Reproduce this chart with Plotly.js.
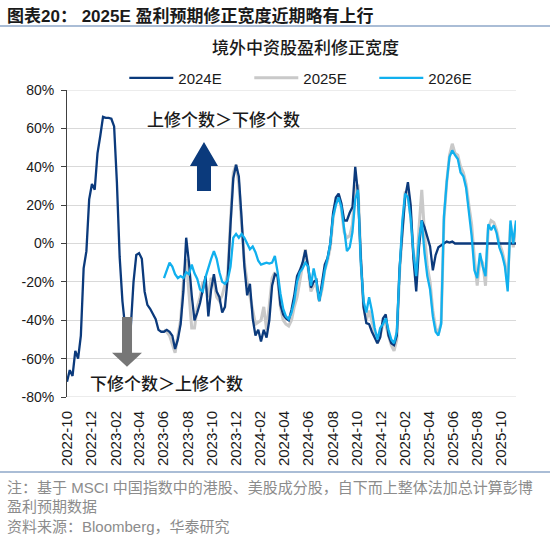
<!DOCTYPE html>
<html><head><meta charset="utf-8">
<script src="https://cdn.plot.ly/plotly-3.0.1.min.js"></script>
<style>html,body{margin:0;padding:0;background:#fff;}#chart{width:550px;height:542px;}</style>
</head><body><div id="chart"></div>
<script>
// weekly observation dates
const dates = [
'2022-09-30','2022-10-07','2022-10-14','2022-10-21','2022-10-28','2022-11-04','2022-11-11','2022-11-18','2022-11-25','2022-12-02','2022-12-09','2022-12-16','2022-12-23','2022-12-30',
'2023-01-06','2023-01-13','2023-01-20','2023-01-27','2023-02-03','2023-02-10','2023-02-17','2023-02-24','2023-03-03','2023-03-10','2023-03-17','2023-03-24','2023-03-31','2023-04-07','2023-04-14','2023-04-21','2023-04-28','2023-05-05','2023-05-12','2023-05-19','2023-05-26','2023-06-02','2023-06-09','2023-06-16','2023-06-23','2023-06-30','2023-07-07','2023-07-14','2023-07-21','2023-07-28','2023-08-04','2023-08-11','2023-08-18','2023-08-25','2023-09-01','2023-09-08','2023-09-15','2023-09-22','2023-09-29','2023-10-06','2023-10-13','2023-10-20','2023-10-27','2023-11-03','2023-11-10','2023-11-17','2023-11-24','2023-12-01','2023-12-08','2023-12-15','2023-12-22','2023-12-29',
'2024-01-05','2024-01-12','2024-01-19','2024-01-26','2024-02-02','2024-02-09','2024-02-16','2024-02-23','2024-03-01','2024-03-08','2024-03-15','2024-03-22','2024-03-29','2024-04-05','2024-04-12','2024-04-19','2024-04-26','2024-05-03','2024-05-10','2024-05-17','2024-05-24','2024-05-31','2024-06-07','2024-06-14','2024-06-21','2024-06-28','2024-07-05','2024-07-12','2024-07-19','2024-07-26','2024-08-02','2024-08-09','2024-08-16','2024-08-23','2024-08-30','2024-09-06','2024-09-13','2024-09-20','2024-09-27','2024-10-04','2024-10-11','2024-10-18','2024-10-25','2024-11-01','2024-11-08','2024-11-15','2024-11-22','2024-11-29','2024-12-06','2024-12-13','2024-12-20','2024-12-27',
'2025-01-03','2025-01-10','2025-01-17','2025-01-24','2025-01-31','2025-02-07','2025-02-14','2025-02-21','2025-02-28','2025-03-07','2025-03-14','2025-03-21','2025-03-28','2025-04-04','2025-04-11','2025-04-18','2025-04-25','2025-05-02','2025-05-09','2025-05-16','2025-05-23','2025-05-30','2025-06-06','2025-06-13','2025-06-20','2025-06-27','2025-07-04','2025-07-11','2025-07-18','2025-07-25','2025-08-01','2025-08-08','2025-08-15','2025-08-22','2025-08-29','2025-09-05','2025-09-12','2025-09-19','2025-09-26','2025-10-03','2025-10-10','2025-10-17','2025-10-24','2025-10-31','2025-11-07'
];

// 2024E revision breadth (%), full history
const s2024E = [
-72,-66,-69,-56,-60,-48,-13,-4,23,31,28,47,56,66,
65.5,65.5,65,61,32,-7,-30,-44,-52,-44,-20,-6,-5,-8,-25,-32,-34,-36.5,-39.5,-45,-46,
-46,-45,-46,-48,-55,-50,-42,-25,3,-10,
-27,-40,-36,-31,-24,-17,-38,-24,-16,-25,
-28,-36,-33,-18,10,34,41,35,13,-12,
-27,-21,-39,-48,-45,-51,-45,-49,-40,-22,
-16,-17,-32,-37,-39,-40,-34.5,-27,-17,-14,
-10,-3.5,-12,-23,-20,-19,-30,-21,-11,-7.5,
0,16,24,26,21,12,12,16,19,40,
26,-7,-33,-41.5,-42,-46,-49,-52,-49,-39,
-37,-48,-52,-53,-48,-13,6,24,32,20,
-8,-25,-2,12,8.5,4,-1.5,-14,-6,-2,
-1,0,1,0.5,1,0,0,0,0.3,0,
0,0,0,0,0,0,0,0,0,0,
0,0,0,0,0,0,0,0
];

// 2025E revision breadth (%), from 2023-06-02
const start2025E = '2023-06-02';
const s2025E = [
-45,-46,-48,-53,-57,-48,-40,-20,-8,-26,
-44,-44,-33,-28,-20,-22,-28,-18,-20,-28,
-30,-27,-22,-16,12,37,41,31,10,-10,
-20,-27,-34,-42,-41,-40,-33,-45,-32,-18,
-15,-18,-33,-40,-42,-43,-40,-33,-28,-20,
-12,-3,-13,-25,-22,-22,-30,-24,-14,-9,
-2,13,22,25,18,6,3,4,10,30,
30,-8,-33,-40,-35,-40,-46,-52,-48,-42,
-42,-48,-53,-56,-50,-15,8,27,26,14,
-5,-15,8,28,5,-12,-20,-35,-44,-47,
-41,12,32,46,52,47,46,40,37,31,
20,10,-8,-22,-8,-10,-22,8,12,11,
7,0,-4,-10,-20,10,-2,10
];

// 2026E revision breadth (%), from 2023-06-02
const start2026E = '2023-06-02';
const s2026E = [
-18,-14,-10,-12,-16,-18,-17,-18,-15,-16,
-11,-15.5,-18.5,-24,-25,-17.5,-12,-8,-4,-8,
-15,-20,-21,-19,-12,3,5,3,5,3,
0,-3,-1.5,-4.5,-9,-11,-10.5,-10,-10.5,-10,
-6.5,-15,-26,-34,-38,-39.5,-36,-30,-20,-15,
-13,-10,-12,-22,-13,-20,-30,-23,-14,-8,
0,14,20,24,19,8,-4,-2,6,23,
28,-10,-30,-36,-28,-35,-44,-50,-44,-42,
-39,-45,-50,-52,-46,-14,12,26,24,13,
-5,-17,2,12,-5,-17,-24,-38,-46,-48,
-42,14,32,45,48.5,46,44,37,35,29,
16,4,-14,-18,-5,-12,-17,10,7,9.5,
5.5,-2,-6,-12,-25,12,0,12
];

const seriesNames = ['2024E','2025E','2026E'];
const xTickDates = ['2022-10-01','2022-12-01','2023-02-01','2023-04-01','2023-06-01','2023-08-01','2023-10-01','2023-12-01','2024-02-01','2024-04-01','2024-06-01','2024-08-01','2024-10-01','2024-12-01','2025-02-01','2025-04-01','2025-06-01','2025-08-01','2025-10-01'];
const xTickLabels = ['2022-10','2022-12','2023-02','2023-04','2023-06','2023-08','2023-10','2023-12','2024-02','2024-04','2024-06','2024-08','2024-10','2024-12','2025-02','2025-04','2025-06','2025-08','2025-10'];
const yTickVals = [-80,-60,-40,-20,0,20,40,60,80];
const yTickLabels = ['-80%','-60%','-40%','-20%','0%','20%','40%','60%','80%'];

const i25 = dates.indexOf(start2025E);
const i26 = dates.indexOf(start2026E);

const NAVY = '#0b3a7c', GRAY = '#c9c9c9', CYAN = '#11b0ee';
const FONT = 'Liberation Sans, Arial, Noto Sans CJK SC, sans-serif';
const CJK = 'Noto Sans CJK SC, Liberation Sans, sans-serif';

const traces = [
  {x: dates.slice(i25), y: s2025E, name: seriesNames[1], type: 'scatter', mode: 'lines',
   line: {color: GRAY, width: 3}, legendrank: 2},
  {x: dates, y: s2024E, name: seriesNames[0], type: 'scatter', mode: 'lines',
   line: {color: NAVY, width: 2.3}, legendrank: 1},
  {x: dates.slice(i26), y: s2026E, name: seriesNames[2], type: 'scatter', mode: 'lines',
   line: {color: CYAN, width: 2.3}, legendrank: 3}
];

const xr = [dates[0], dates[dates.length - 1]];

const layout = {
  width: 550, height: 542,
  margin: {l: 67, r: 34, t: 90, b: 145},
  paper_bgcolor: '#fff', plot_bgcolor: '#fff',
  font: {family: FONT, color: '#1a1a1a'},
  showlegend: true,
  title: {text: '境外中资股盈利修正宽度', font: {family: CJK, size: 17, color: '#1a1a1a', weight: 500},
          xref: 'container', yref: 'container', x: 0.5555, y: 0.9109, xanchor: 'center', yanchor: 'middle'},
  legend: {orientation: 'h', x: 0.1276, xanchor: 'left', y: 1.039, yanchor: 'middle',
           font: {size: 15, family: FONT, color: '#1a1a1a'}, itemwidth: 44, entrywidth: 66, entrywidthmode: 'pixels',
           bgcolor: 'rgba(0,0,0,0)', traceorder: 'normal'},
  xaxis: {type: 'date', range: xr, tickvals: xTickDates, ticktext: xTickLabels, tickangle: -90,
          showgrid: false, showline: false, zeroline: false, ticks: '', ticklabelstandoff: 10,
          tickfont: {size: 15, family: FONT, color: '#1a1a1a'}, fixedrange: true},
  xaxis2: {type: 'date', range: xr, overlaying: 'x', anchor: 'free', position: 0.5, side: 'bottom',
           tickvals: xTickDates, showticklabels: false, showgrid: false, zeroline: false,
           showline: true, linecolor: '#1a1a1a', linewidth: 1, ticks: 'outside', ticklen: 5,
           tickcolor: '#1a1a1a', tickwidth: 1},
  yaxis: {range: [-80, 80], tickvals: yTickVals, ticktext: yTickLabels, showgrid: true,
          gridcolor: '#d9d9d9', gridwidth: 1, zeroline: false, showline: true, linecolor: '#404040',
          linewidth: 1, ticks: 'outside', ticklen: 5, tickcolor: '#404040', ticklabelstandoff: 4,
          tickfont: {size: 14, family: FONT, color: '#1a1a1a'}, fixedrange: true},
  shapes: [
    {type: 'line', xref: 'paper', yref: 'y', x0: 0, x1: 1, y0: 80, y1: 80, line: {color: '#d9d9d9', width: 1}, layer: 'below'},
    {type: 'line', xref: 'paper', yref: 'y', x0: 0, x1: 1, y0: -80, y1: -80, line: {color: '#d9d9d9', width: 1}, layer: 'below'},
    // header & footer rules
    {type: 'line', xref: 'paper', yref: 'paper', x0: -0.1492, x1: 1.0757, y0: 1.2085, y1: 1.2085, line: {color: '#8ea7c8', width: 1.5}},
    {type: 'line', xref: 'paper', yref: 'paper', x0: -0.1492, x1: 1.0757, y0: -0.2443, y1: -0.2443, line: {color: '#8ea7c8', width: 1.5}},
    // up arrow
    {type: 'path', xref: 'paper', yref: 'y', fillcolor: '#0b3a7c', line: {width: 0},
     path: 'M 0.2739,40.4 L 0.3051,52.9 L 0.3363,40.4 L 0.3207,40.4 L 0.3207,27.4 L 0.2895,27.4 L 0.2895,40.4 Z'},
    // down arrow
    {type: 'path', xref: 'paper', yref: 'y', fillcolor: '#767676', line: {width: 0},
     path: 'M 0.1225,-38.3 L 0.1448,-38.3 L 0.1448,-56.9 L 0.1670,-56.9 L 0.1336,-64.2 L 0.1002,-56.9 L 0.1225,-56.9 Z'}
  ],
  annotations: [
    {xref: 'paper', yref: 'paper', x: -0.138, y: 1.241, xanchor: 'left', yanchor: 'middle', showarrow: false,
     text: '<b>图表20： 2025E 盈利预期修正宽度近期略有上行</b>', font: {family: FONT, size: 17, color: '#1a1a1a'}},
    {xref: 'paper', yref: 'y', x: 0.3475, y: 64.9, xanchor: 'center', yanchor: 'middle', showarrow: false,
     text: '上修个数＞下修个数', font: {family: CJK, size: 17, color: '#1a1a1a', weight: 500}},
    {xref: 'paper', yref: 'y', x: 0.2216, y: -72.2, xanchor: 'center', yanchor: 'middle', showarrow: false,
     text: '下修个数＞上修个数', font: {family: CJK, size: 17, color: '#1a1a1a', weight: 500}},
    {xref: 'paper', yref: 'paper', x: -0.138, y: -0.2932, xanchor: 'left', yanchor: 'middle', showarrow: false,
     text: '注：基于 MSCI 中国指数中的港股、美股成分股，自下而上整体法加总计算彭博', font: {family: FONT, size: 15, color: '#8c8c8c'}},
    {xref: 'paper', yref: 'paper', x: -0.138, y: -0.3583, xanchor: 'left', yanchor: 'middle', showarrow: false,
     text: '盈利预期数据', font: {family: FONT, size: 15, color: '#8c8c8c'}},
    {xref: 'paper', yref: 'paper', x: -0.138, y: -0.4202, xanchor: 'left', yanchor: 'middle', showarrow: false,
     text: '资料来源：Bloomberg，华泰研究', font: {family: FONT, size: 15, color: '#8c8c8c'}}
  ]
};

Plotly.newPlot('chart', traces, layout, {staticPlot: true, displayModeBar: false});
</script>
</body></html>
